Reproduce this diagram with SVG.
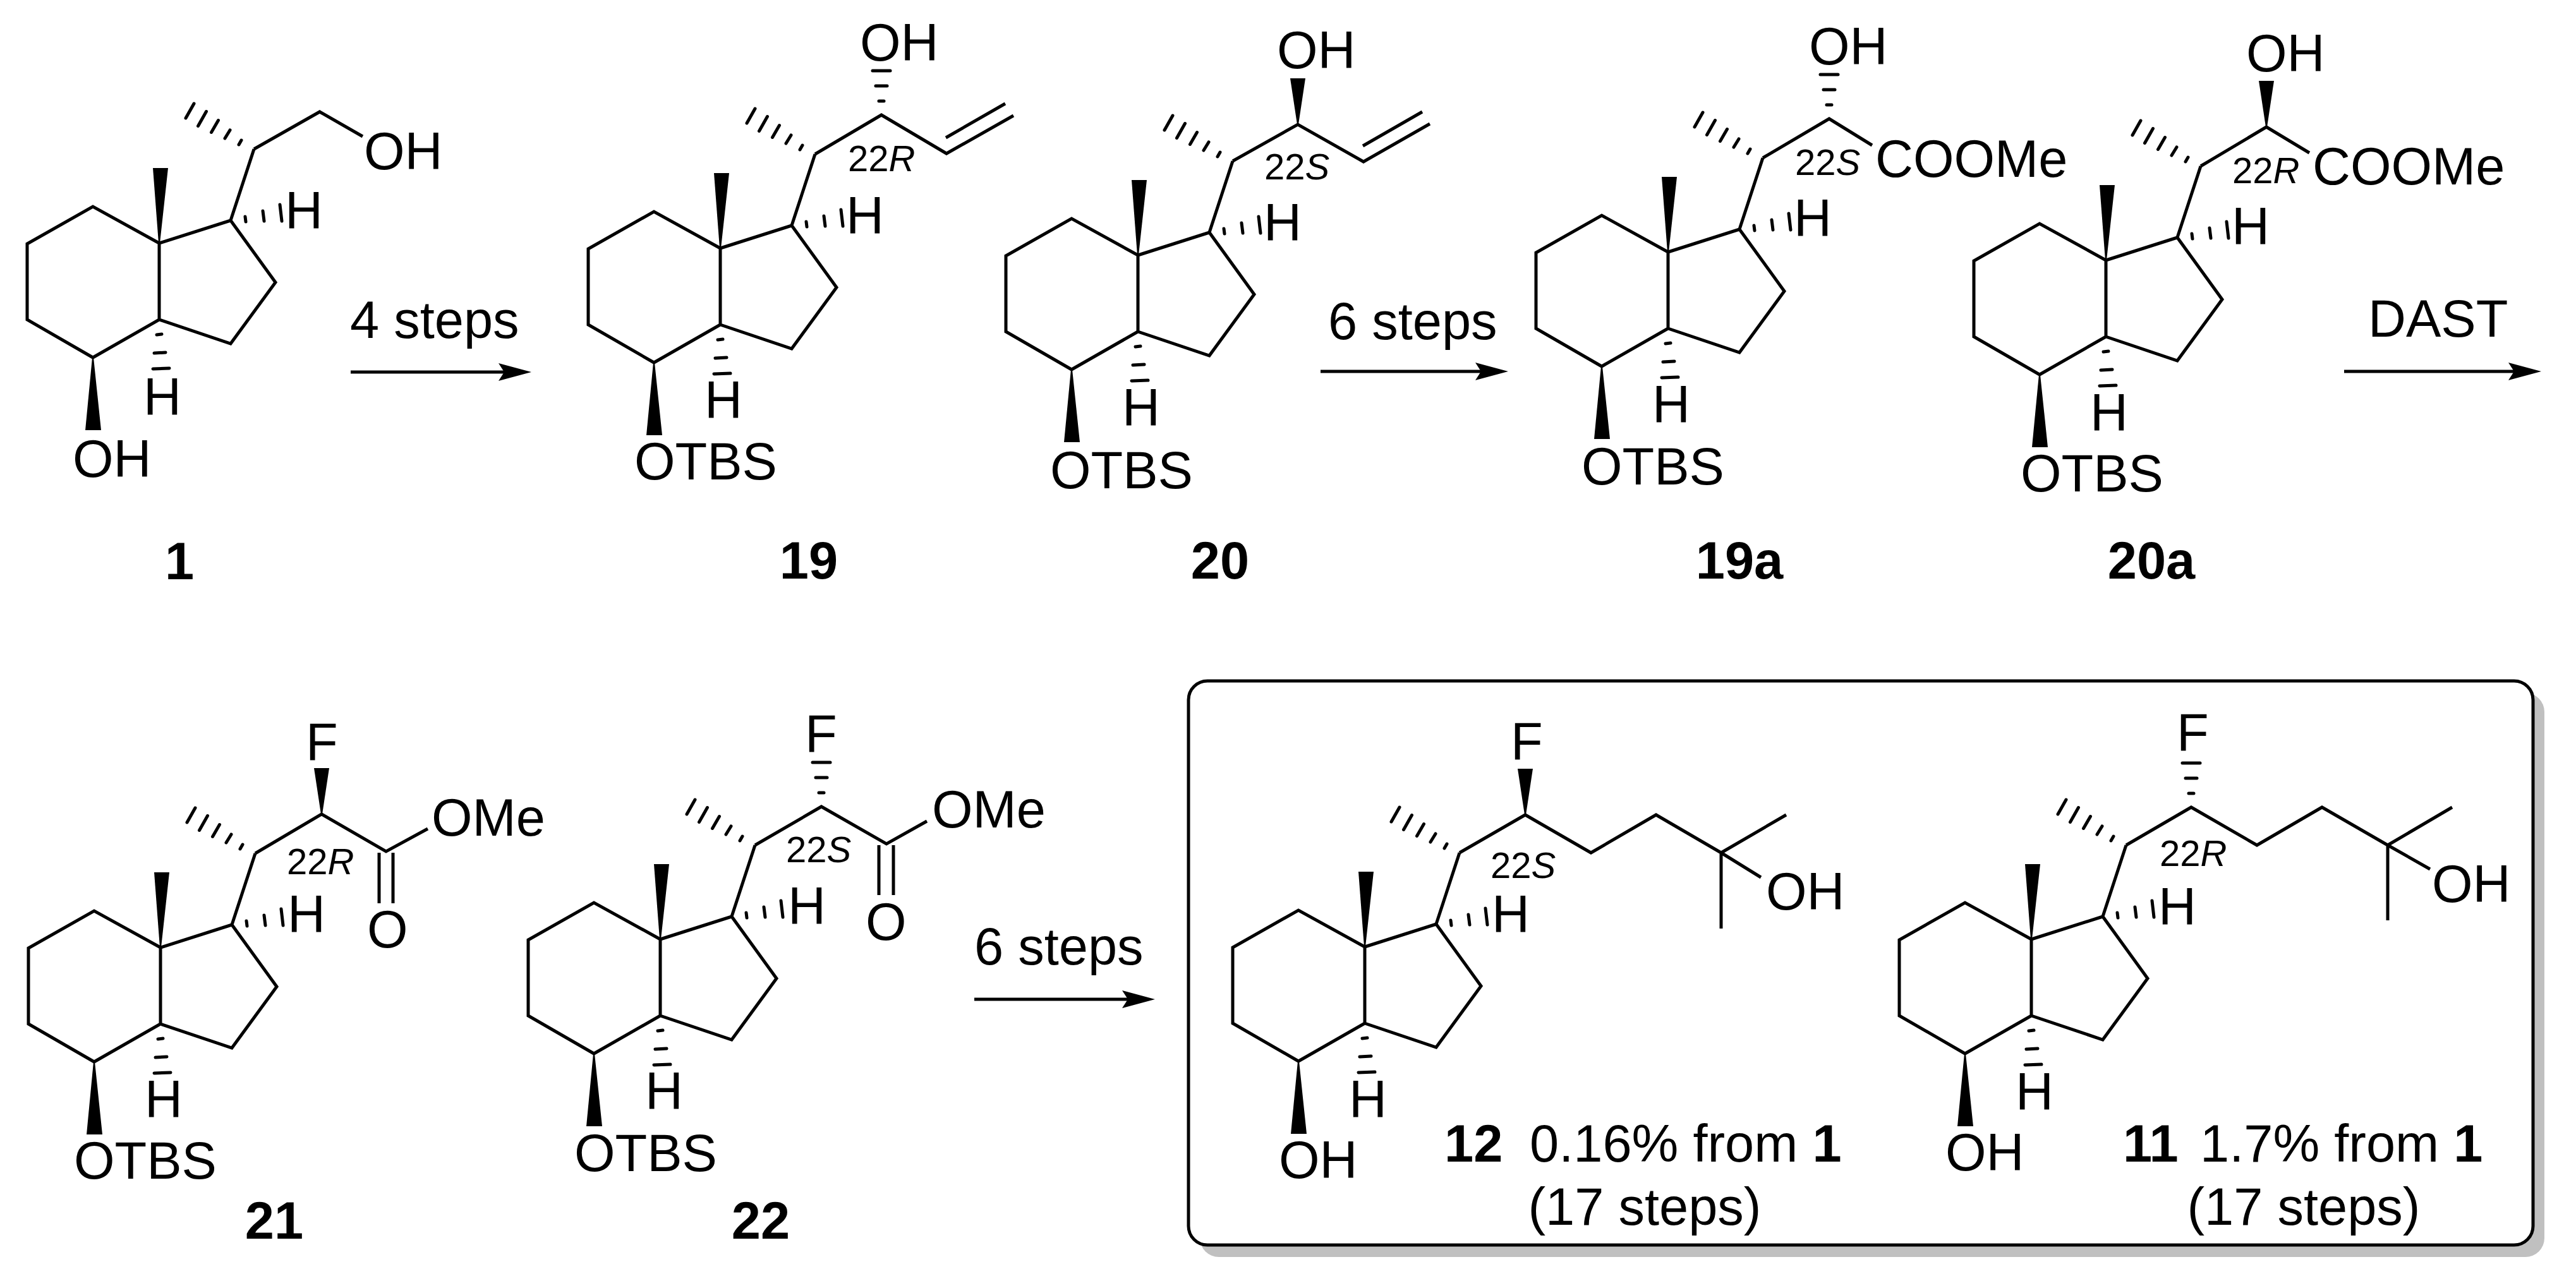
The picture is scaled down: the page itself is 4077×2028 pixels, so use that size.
<svg xmlns="http://www.w3.org/2000/svg" xmlns:xlink="http://www.w3.org/1999/xlink" width="4077" height="2028" viewBox="0 0 4077 2028">
<style>
text{font-family:"Liberation Sans",Arial,sans-serif;fill:#000}
.t{font-size:83px}
.s{font-size:58px}
.n{font-size:83px;font-weight:bold;text-anchor:middle}
.b{fill:none;stroke:#000;stroke-width:5;stroke-linejoin:miter}
.d{fill:none;stroke:#000;stroke-width:5;stroke-linecap:round}
.w{fill:#000;stroke:none}
.i{font-style:italic}
.bd{font-weight:bold}
</style>
<defs>
<marker id="ah" markerUnits="userSpaceOnUse" viewBox="0 -15 54 30" markerWidth="54" markerHeight="30" refX="12" refY="0" orient="auto">
<path d="M0,-14 L52,0 L0,14 L9,0Z" fill="#000"/>
</marker>
<g id="core">
<path class="b" d="M0,0 L-105,-58 L-209,1 L-209,121 L-105,181 L0,121 Z M0,121 L113,159 L184,62 L113,-36 L0,0 M113,-36 L150,-149"/>
<polygon class="w" points="-1,0 1,0 14,-119 -10,-119"/>
<polygon class="w" points="-106,181 -104,181 -92,296 -117,296"/>
<path class="d" d="M130,-163 l-4,7 M112,-179 l-8,13 M93.500,-194.500 l-11,19 M74.500,-208.500 l-13,23 M55,-221 l-13,23"/>
<path class="d" d="M136,-42 l1,8 M164,-51 l2,16 M191,-61 l3,26"/>
<path class="d" d="M-4,145 l8,-1 M-8,174 l18,-1 M-10,199 l26,-1"/>
</g>
<path id="hup" class="d" d="M-4,-22 h8 M-9,-46 h18 M-14,-70 h28"/>
<polygon id="wup" class="w" points="-1,0 1,0 12,-73 -12,-73"/>
</defs>

<g id="connectors">
<line class="b" x1="555" y1="589" x2="801" y2="589" marker-end="url(#ah)"/>
<line class="b" x1="2090" y1="588" x2="2347" y2="588" marker-end="url(#ah)"/>
<line class="b" x1="3710" y1="588" x2="3982" y2="588" marker-end="url(#ah)"/>
<line class="b" x1="1542" y1="1582" x2="1788" y2="1582" marker-end="url(#ah)"/>
</g>
<g id="arrow-labels">
<text class="t" x="554" y="535">4 steps</text>
<text class="t" x="2102" y="537">6 steps</text>
<text class="t" x="3748" y="533">DAST</text>
<text class="t" x="1542" y="1527">6 steps</text>
</g>

<g id="product-box">
<rect x="1899" y="1097" width="2128" height="893" rx="30" fill="#c0c0c0"/>
<rect class="b" x="1881" y="1078" width="2128" height="893" rx="30" style="fill:#fff"/>
</g>

<g id="mol-1">
<use href="#core" x="252" y="385"/>
<path class="b" d="M402,236 L506,177 L574,216"/>
<text class="t" x="576" y="268">OH</text>
<text class="t" x="451" y="362">H</text>
<text class="t" x="227" y="657">H</text>
<text class="t" x="115" y="755">OH</text>
<text class="n" x="284" y="917">1</text>
</g>

<g id="mol-19">
<use href="#core" x="1140" y="393"/>
<path class="b" d="M1290,244 L1395,182 L1498,243 L1604,183 M1497,218 L1591,164"/>
<use href="#hup" x="1395" y="182"/>
<text class="t" x="1361" y="96">OH</text>
<text class="s" x="1342" y="271">22<tspan class="i">R</tspan></text>
<text class="t" x="1339" y="370">H</text>
<text class="t" x="1115" y="662">H</text>
<text class="t" x="1004" y="759">OTBS</text>
<text class="n" x="1280" y="916">19</text>
</g>

<g id="mol-20">
<use href="#core" x="1801" y="404"/>
<path class="b" d="M1951,255 L2054,197 L2158,256 L2263,196 M2157,231 L2251,177"/>
<use href="#wup" x="2054" y="197"/>
<text class="t" x="2021" y="108">OH</text>
<text class="s" x="2001" y="284">22<tspan class="i">S</tspan></text>
<text class="t" x="2000" y="381">H</text>
<text class="t" x="1776" y="674">H</text>
<text class="t" x="1662" y="773">OTBS</text>
<text class="n" x="1931" y="916">20</text>
</g>

<g id="mol-19a">
<use href="#core" x="2640" y="399"/>
<path class="b" d="M2790,250 L2895,188 L2963,230"/>
<use href="#hup" x="2895" y="188"/>
<text class="t" x="2863" y="102">OH</text>
<text class="s" x="2841" y="277">22<tspan class="i">S</tspan></text>
<text class="t" x="2968" y="280">COOMe</text>
<text class="t" x="2839" y="374">H</text>
<text class="t" x="2615" y="669">H</text>
<text class="t" x="2503" y="767">OTBS</text>
<text class="n" x="2753" y="916">19a</text>
</g>

<g id="mol-20a">
<use href="#core" x="3333" y="412"/>
<path class="b" d="M3483,263 L3587,201 L3655,242"/>
<use href="#wup" x="3587" y="201"/>
<text class="t" x="3555" y="113">OH</text>
<text class="s" x="3533" y="290">22<tspan class="i">R</tspan></text>
<text class="t" x="3660" y="292">COOMe</text>
<text class="t" x="3532" y="387">H</text>
<text class="t" x="3308" y="682">H</text>
<text class="t" x="3198" y="778">OTBS</text>
<text class="n" x="3405" y="916">20a</text>
</g>

<g id="mol-21">
<use href="#core" x="254" y="1500"/>
<path class="b" d="M404,1351 L509,1289 L611,1348 L677,1312 M600,1350 L600,1430 M622,1350 L622,1430"/>
<use href="#wup" x="509" y="1289"/>
<text class="t" x="484" y="1203">F</text>
<text class="s" x="454" y="1384">22<tspan class="i">R</tspan></text>
<text class="t" x="581" y="1500">O</text>
<text class="t" x="683" y="1323">OMe</text>
<text class="t" x="455" y="1476">H</text>
<text class="t" x="229" y="1769">H</text>
<text class="t" x="117" y="1866">OTBS</text>
<text class="n" x="434" y="1961">21</text>
</g>

<g id="mol-22">
<use href="#core" x="1045" y="1487"/>
<path class="b" d="M1195,1338 L1300,1277 L1403,1336 L1467,1300 M1391,1338 L1391,1417 M1414,1338 L1414,1417"/>
<use href="#hup" x="1300" y="1277"/>
<text class="t" x="1274" y="1190">F</text>
<text class="s" x="1244" y="1365">22<tspan class="i">S</tspan></text>
<text class="t" x="1370" y="1488">O</text>
<text class="t" x="1475" y="1310">OMe</text>
<text class="t" x="1247" y="1463">H</text>
<text class="t" x="1021" y="1756">H</text>
<text class="t" x="909" y="1854">OTBS</text>
<text class="n" x="1204" y="1961">22</text>
</g>

<g id="mol-12">
<use href="#core" x="2160" y="1499"/>
<path class="b" d="M2310,1350 L2414,1290 L2518,1350 L2621,1290 L2724,1350 L2827,1290 M2724,1350 L2787,1389 M2724,1350 L2724,1470"/>
<use href="#wup" x="2414" y="1290"/>
<text class="t" x="2391" y="1202">F</text>
<text class="s" x="2359" y="1390">22<tspan class="i">S</tspan></text>
<text class="t" x="2795" y="1440">OH</text>
<text class="t" x="2361" y="1476">H</text>
<text class="t" x="2135" y="1769">H</text>
<text class="t" x="2024" y="1865">OH</text>
<text class="t" y="1839"><tspan class="bd" x="2286">12</tspan><tspan x="2421">0.16% from </tspan><tspan class="bd">1</tspan></text>
<text class="t" x="2603" y="1939" text-anchor="middle">(17 steps)</text>
</g>

<g id="mol-11">
<use href="#core" x="3215" y="1487"/>
<path class="b" d="M3365,1338 L3468,1278 L3572,1338 L3675,1278 L3779,1338 L3881,1278 M3779,1338 L3846,1376 M3779,1338 L3779,1457"/>
<use href="#hup" x="3468" y="1278"/>
<text class="t" x="3445" y="1188">F</text>
<text class="s" x="3418" y="1371">22<tspan class="i">R</tspan></text>
<text class="t" x="3849" y="1428">OH</text>
<text class="t" x="3416" y="1464">H</text>
<text class="t" x="3190" y="1757">H</text>
<text class="t" x="3079" y="1853">OH</text>
<text class="t" y="1839"><tspan class="bd" x="3360">11</tspan><tspan x="3482">1.7% from </tspan><tspan class="bd">1</tspan></text>
<text class="t" x="3646" y="1939" text-anchor="middle">(17 steps)</text>
</g>
</svg>
